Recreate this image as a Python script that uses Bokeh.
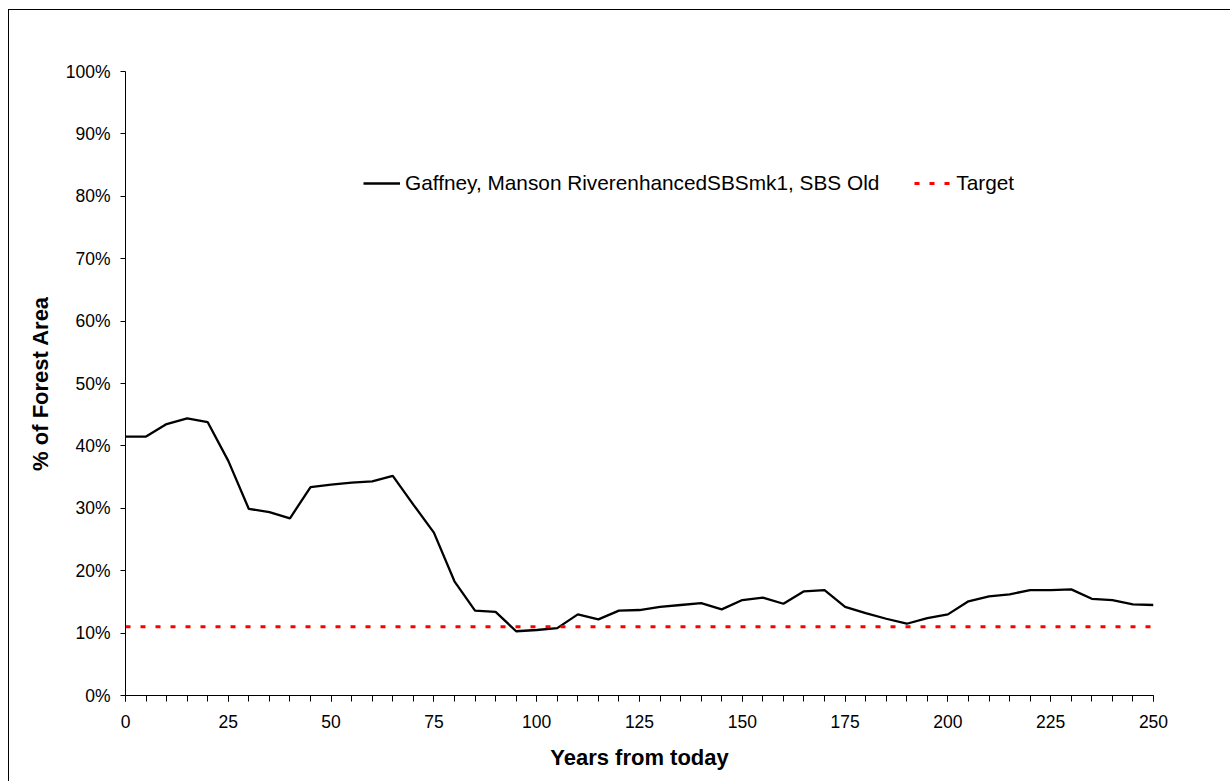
from bokeh.plotting import figure
from bokeh.models import Range1d, FixedTicker, PrintfTickFormatter, Legend, LegendItem
from bokeh.embed import file_html
from bokeh.resources import INLINE

years = [0, 5, 10, 15, 20, 25, 30, 35, 40, 45, 50, 55, 60, 65, 70, 75, 80, 85, 90, 95,
         100, 105, 110, 115, 120, 125, 130, 135, 140, 145, 150, 155, 160, 165, 170, 175,
         180, 185, 190, 195, 200, 205, 210, 215, 220, 225, 230, 235, 240, 245, 250]
old_pct = [41.5, 41.5, 43.5, 44.4, 43.8, 37.6, 29.9, 29.4, 28.4, 33.4, 33.8, 34.1, 34.3,
           35.2, 30.6, 26.1, 18.3, 13.6, 13.4, 10.3, 10.5, 10.8, 13.0, 12.2, 13.6, 13.7,
           14.2, 14.5, 14.8, 13.8, 15.3, 15.7, 14.7, 16.7, 16.9, 14.2, 13.2, 12.3, 11.5,
           12.4, 13.0, 15.1, 15.9, 16.2, 16.9, 16.9, 17.0, 15.5, 15.3, 14.6, 14.5]
target_years = [0, 250]
target_pct = [11.0, 11.0]
x_ticks = [0, 25, 50, 75, 100, 125, 150, 175, 200, 225, 250]
x_minor = [5 * i for i in range(51)]
y_ticks = [0, 10, 20, 30, 40, 50, 60, 70, 80, 90, 100]
series_label = "Gaffney, Manson RiverenhancedSBSmk1, SBS Old"
target_label = "Target"

FONT = "Liberation Sans"

p = figure(width=1222, height=772, output_backend="svg", toolbar_location=None,
           x_range=Range1d(0, 250), y_range=Range1d(0, 100),
           min_border_left=116, min_border_right=78, min_border_top=61, min_border_bottom=87)
p.styles = {"border-left": "1.5px solid black", "border-top": "1.5px solid black",
            "margin-left": "8px", "margin-top": "9px"}
p.outline_line_color = None
p.xgrid.visible = False
p.ygrid.visible = False
p.background_fill_color = "white"
p.border_fill_color = "white"

xa = p.xaxis[0]
xa.ticker = FixedTicker(ticks=x_ticks, minor_ticks=x_minor)
xa.major_tick_in = 0
xa.major_tick_out = 6
xa.minor_tick_in = 0
xa.minor_tick_out = 6
xa.axis_line_color = "black"
xa.major_tick_line_color = "black"
xa.minor_tick_line_color = "black"
xa.major_label_text_font = FONT
xa.major_label_text_font_size = "17.5px"
xa.major_label_text_color = "black"
xa.major_label_standoff = 13
xa.axis_label = "Years from today"
xa.axis_label_text_font = FONT
xa.axis_label_text_font_style = "bold"
xa.axis_label_text_font_size = "22px"
xa.axis_label_text_color = "black"
xa.axis_label_standoff = 14

ya = p.yaxis[0]
ya.ticker = FixedTicker(ticks=y_ticks)
ya.formatter = PrintfTickFormatter(format="%d%%")
ya.major_tick_in = 0
ya.major_tick_out = 5
ya.minor_tick_line_color = None
ya.axis_line_color = "black"
ya.major_tick_line_color = "black"
ya.major_label_text_font = FONT
ya.major_label_text_font_size = "17.5px"
ya.major_label_text_color = "black"
ya.major_label_standoff = 10
ya.axis_label = "% of Forest Area"
ya.axis_label_text_font = FONT
ya.axis_label_text_font_style = "bold"
ya.axis_label_text_font_size = "22px"
ya.axis_label_text_color = "black"
ya.axis_label_standoff = 10

r_old = p.line(years, old_pct, line_color="black", line_width=2.3)
r_tgt = p.line(target_years, target_pct, line_color="#FF0000", line_width=3, line_dash="5 10")

legend = Legend(items=[LegendItem(label=series_label, renderers=[r_old]),
                       LegendItem(label=target_label, renderers=[r_tgt])],
                orientation="horizontal", location=(238, 500),
                glyph_width=37, glyph_height=20, label_height=20,
                label_standoff=5, spacing=35, padding=0, margin=0,
                border_line_color=None, background_fill_alpha=0,
                label_text_font=FONT, label_text_font_size="20.8px",
                label_text_color="black")
p.add_layout(legend, "center")

open("out.html", "w").write(file_html(p, INLINE))
